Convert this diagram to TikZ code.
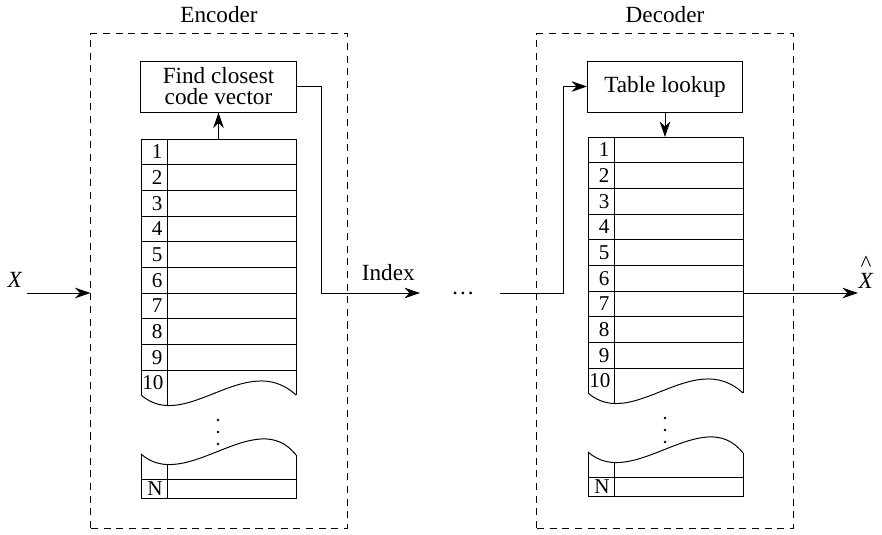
\documentclass[tikz,border=0pt]{standalone}
\usepackage{fontspec}
\setmainfont{Liberation Serif}
\usetikzlibrary{positioning, arrows.meta}

\begin{document}
\begin{tikzpicture}[
    x=0.025cm, y=-0.025cm,
    line width=0.7pt,
    font=\fontsize{16.5}{15}\selectfont,
    unit/.style={draw, dash pattern=on 5pt off 4pt, minimum width=6.4cm, minimum height=12.35cm},
    block/.style={draw, align=center, minimum width=3.875cm, minimum height=1.275cm, inner sep=2pt},
    link/.style={-{Stealth[length=11pt, width=7.5pt, inset=3.5pt]}},
    cell/.style={anchor=east, inner sep=0pt, font=\fontsize{15}{15}\selectfont},
]
\useasboundingbox (0,0) rectangle (882,534);

% Blocs
\node[unit] (enc) at (219, 281) {};
\node[unit] (dec) at (665, 281) {};
\node[above=4pt of enc.north] {Encoder};
\node[above=4pt of dec.north] {Decoder};
\node[block] (find) at (218.5, 86.5) {Find closest\\code vector};
\node[block] (lookup) at (665, 86.5) {Table lookup};

% Tables
\foreach \tx/\ty in {141/139, 588/137} {
  \begin{scope}[shift={(\tx,\ty)}]
    \draw (0,256) -- (0,0) -- (155,0) -- (155,256);
    \foreach \i in {1,...,9} {
      \draw (0,\i*25.67) -- (155,\i*25.67);
      \node[cell] at (22,\i*25.67-12.8) {\i};
    }
    \node[cell] at (23,243.9) {10};
    \draw (26,0) -- (26,266.5);
    \draw (0,256) .. controls (45,295) and (105,210) .. (155,256);
    \foreach \d in {281,293,305}
      \fill (77,\d) circle (1.4);
    \draw (0,315) .. controls (45,355) and (115,265) .. (155,316);
    \draw (0,315) -- (0,359) -- (155,359) -- (155,316);
    \draw (0,340) -- (155,340);
    \draw (26,325.5) -- (26,359);
    \node[cell] at (22,349.5) {N};
  \end{scope}
}
\coordinate (enctop) at (218.5,139);
\coordinate (dectop) at (665,137);

% Liens
\node (xin) at (15,280) {\textit{X}};
\coordinate (xstart) at (27,293);
\draw[link] (xstart) -- (xstart -| enc.west);
\draw[link] (enctop) -- (find.south);
\coordinate (idxturn) at (321,293);
\coordinate (idxend) at (420,293);
\draw[link] (find.east) -| (idxturn) -- node[above=5pt, pos=0.68] {Index} (idxend);
\node (gap) at (463,293) {\dots};
\coordinate (ret) at (500,293);
\coordinate (riser) at (563,293);
\draw[link] (ret) -- (riser) |- (lookup.west);
\draw[link] (lookup.south) -- (dectop);
\coordinate (tabout) at (743,293);
\coordinate (xend) at (858,293);
\draw[link] (tabout) -- (xend);
\node[align=center, inner sep=0pt] (xhat) at (866,272) {\^{}\\[-3pt]\textit{X}};

\end{tikzpicture}
\end{document}
